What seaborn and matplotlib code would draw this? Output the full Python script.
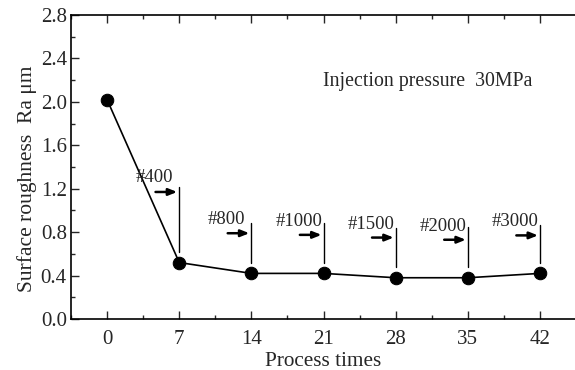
import matplotlib
matplotlib.use("Agg")
import matplotlib.pyplot as plt
import seaborn as sns
import pandas as pd
from matplotlib.ticker import MultipleLocator

process_times = [0, 7, 14, 21, 28, 35, 42]
roughness = [2.02, 0.52, 0.42, 0.42, 0.38, 0.38, 0.42]
grit_labels = ["#400", "#800", "#1000", "#1500", "#2000", "#3000"]
label_y = [1.30, 0.92, 0.90, 0.866, 0.855, 0.90]
line_top = [1.22, 0.885, 0.885, 0.84, 0.85, 0.865]
arrow_y = [1.17, 0.79, 0.775, 0.75, 0.73, 0.77]

sns.set_style("white")
plt.rcParams['font.family'] = ['Liberation Serif', 'DejaVu Serif']

fig = plt.figure(figsize=(5.75, 3.7), dpi=100)
ax = fig.add_axes([71/575, 1-319/370, 1.002-71/575, (319-15)/370])

df = pd.DataFrame({"t": process_times, "ra": roughness})
sns.lineplot(data=df, x="t", y="ra", ax=ax, color="black", lw=1.2,
             marker="o", markersize=9, markeredgecolor="black", markerfacecolor="black")

for i, lab in enumerate(grit_labels):
    xp = process_times[i + 1]
    yp = roughness[i + 1]
    ax.plot([xp, xp], [yp + 0.1, line_top[i]], color="black", lw=1.0)
    ax.annotate("", xy=(xp - 0.2, arrow_y[i]), xytext=(xp - 2.3, arrow_y[i]),
                arrowprops=dict(arrowstyle="-|>,head_length=0.5,head_width=0.2",
                                color="black", lw=1.8, shrinkA=0, shrinkB=0))
    ax.text(xp - 2.4, label_y[i], lab, ha="center", va="center", fontsize=13.5)

ax.text(31.1, 2.19, "Injection pressure  30MPa", ha="center", va="center", fontsize=14.3)

ax.set_xlim(-3.5, 45.5)
ax.set_ylim(0, 2.8)
ax.set_xticks(process_times)
ax.xaxis.set_minor_locator(MultipleLocator(3.5))
ax.yaxis.set_major_locator(MultipleLocator(0.4))
ax.yaxis.set_minor_locator(MultipleLocator(0.2))
ax.yaxis.set_major_formatter(matplotlib.ticker.FormatStrFormatter('%.1f'))
ax.tick_params(which="major", direction="in", length=6, width=1, labelsize=15,
               top=True, bottom=True, left=True, right=False, pad=8)
ax.tick_params(axis="y", which="major", pad=3)
ax.tick_params(which="minor", direction="in", length=3, width=1,
               top=True, bottom=True, left=True, right=False)
for s in ["left", "bottom", "top"]:
    ax.spines[s].set_linewidth(1.2)
    ax.spines[s].set_color("black")
ax.spines["right"].set_visible(False)

ax.set_xlabel("Process times", fontsize=15.3, labelpad=2)
ax.set_ylabel("Surface roughness  Ra μm", fontsize=15.5, labelpad=3)
ax.yaxis.label.set_y(0.46)

fig.savefig("out.png", dpi=100)
